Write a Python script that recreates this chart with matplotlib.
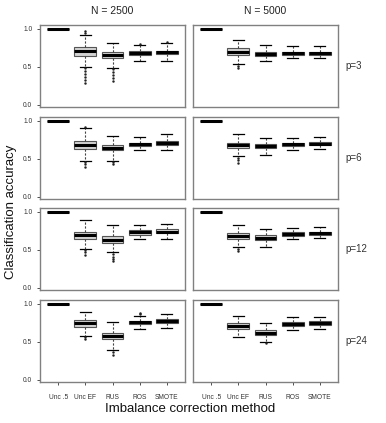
import matplotlib
matplotlib.use("Agg")
import matplotlib.pyplot as plt

plt.rcParams['font.family'] = ['Liberation Sans', 'DejaVu Sans']

METHODS = ['Unc .5', 'Unc EF', 'RUS', 'ROS', 'SMOTE']
SAMPLE_SIZES = ['N = 2500', 'N = 5000']
P_LABELS = ['p=3', 'p=6', 'p=12', 'p=24']

# box stats per N, rows = p (3, 6, 12, 24), columns = methods
MED_2500 = [[1.0, 0.71, 0.65, 0.68, 0.69],
            [1.0, 0.68, 0.64, 0.69, 0.71],
            [1.0, 0.70, 0.635, 0.73, 0.74],
            [1.0, 0.745, 0.57, 0.76, 0.78]]
Q1_2500 = [[1.0, 0.645, 0.61, 0.66, 0.665],
           [1.0, 0.63, 0.61, 0.67, 0.68],
           [1.0, 0.645, 0.59, 0.70, 0.72],
           [1.0, 0.70, 0.53, 0.73, 0.745]]
Q3_2500 = [[1.0, 0.765, 0.69, 0.71, 0.71],
           [1.0, 0.73, 0.68, 0.71, 0.73],
           [1.0, 0.74, 0.675, 0.755, 0.77],
           [1.0, 0.79, 0.62, 0.78, 0.80]]
LO_2500 = [[1.0, 0.50, 0.48, 0.57, 0.57],
           [1.0, 0.47, 0.47, 0.61, 0.62],
           [1.0, 0.51, 0.465, 0.64, 0.645],
           [1.0, 0.58, 0.385, 0.67, 0.68]]
HI_2500 = [[1.0, 0.92, 0.81, 0.79, 0.81],
           [1.0, 0.90, 0.80, 0.79, 0.82],
           [1.0, 0.89, 0.82, 0.83, 0.84],
           [1.0, 0.89, 0.755, 0.84, 0.87]]
FLIERS_2500 = [[[], [0.95, 0.97, 0.48, 0.45, 0.41, 0.37, 0.33, 0.29],
                [0.47, 0.43, 0.39, 0.35, 0.31], [0.80], [0.83]],
               [[], [0.92, 0.46, 0.43, 0.39], [0.46, 0.43], [], []],
               [[], [0.50, 0.47, 0.43], [0.45, 0.41, 0.38, 0.35], [], []],
               [[], [0.56, 0.53], [0.37, 0.33], [0.86, 0.88], []]]

MED_5000 = [[1.0, 0.70, 0.67, 0.68, 0.68],
            [1.0, 0.675, 0.665, 0.69, 0.70],
            [1.0, 0.68, 0.66, 0.71, 0.715],
            [1.0, 0.71, 0.62, 0.73, 0.745]]
Q1_5000 = [[1.0, 0.66, 0.64, 0.66, 0.66],
           [1.0, 0.64, 0.64, 0.67, 0.68],
           [1.0, 0.64, 0.63, 0.68, 0.69],
           [1.0, 0.67, 0.59, 0.71, 0.72]]
Q3_5000 = [[1.0, 0.745, 0.69, 0.70, 0.70],
           [1.0, 0.71, 0.69, 0.71, 0.72],
           [1.0, 0.72, 0.69, 0.73, 0.735],
           [1.0, 0.745, 0.65, 0.76, 0.77]]
LO_5000 = [[1.0, 0.53, 0.57, 0.61, 0.61],
           [1.0, 0.53, 0.55, 0.61, 0.63],
           [1.0, 0.54, 0.54, 0.64, 0.65],
           [1.0, 0.56, 0.50, 0.65, 0.665]]
HI_5000 = [[1.0, 0.855, 0.78, 0.77, 0.77],
           [1.0, 0.82, 0.77, 0.78, 0.79],
           [1.0, 0.83, 0.77, 0.785, 0.80],
           [1.0, 0.845, 0.745, 0.825, 0.83]]
FLIERS_5000 = [[[], [0.51, 0.49], [], [], []],
               [[], [0.51, 0.48, 0.45], [], [], []],
               [[], [0.51, 0.48], [], [], []],
               [[], [], [0.48], [], []]]

STATS = [(MED_2500, Q1_2500, Q3_2500, LO_2500, HI_2500, FLIERS_2500),
         (MED_5000, Q1_5000, Q3_5000, LO_5000, HI_5000, FLIERS_5000)]

W, H = 386, 423
fig = plt.figure(figsize=(W / 100, H / 100), dpi=100)

col_x = [40, 193]
col_w = 145
row_top = [25, 117, 208, 300]
row_h = 82
frame_col = '#808080'

for c in range(2):
    med, q1, q3, lo, hi, fl = STATS[c]
    for r in range(4):
        ax = fig.add_axes([col_x[c] / W, 1 - (row_top[r] + row_h) / H,
                           col_w / W, row_h / H])
        bxp_stats = []
        for m in range(5):
            bxp_stats.append(dict(med=med[r][m], q1=q1[r][m], q3=q3[r][m],
                                  whislo=lo[r][m], whishi=hi[r][m],
                                  fliers=fl[r][m], label=METHODS[m]))
        ax.bxp(bxp_stats, positions=range(1, 6), widths=0.8,
               patch_artist=True, showfliers=True,
               boxprops=dict(facecolor='#d3d3d3', edgecolor='#555555', linewidth=0.8),
               medianprops=dict(color='black', linewidth=2.2, solid_capstyle='butt'),
               whiskerprops=dict(color='#444444', linewidth=0.8, linestyle=(0, (2, 1.5))),
               capprops=dict(color='black', linewidth=0.9),
               capwidths=0.4,
               flierprops=dict(marker='o', markersize=1.4, markerfacecolor='#222222',
                               markeredgecolor='#222222', markeredgewidth=0.3,
                               linestyle='none'))
        ax.set_xlim(0.33, 5.67)
        ax.set_ylim(-0.03, 1.05)
        for s in ax.spines.values():
            s.set_color(frame_col)
            s.set_linewidth(1.0)
        ax.set_yticks([0.0, 0.5, 1.0])
        ax.set_xticks(range(1, 6))
        ax.tick_params(axis='both', length=2.5, width=0.6, color='#333333',
                       labelsize=4.8, labelcolor='#333333', pad=3)
        if c == 0:
            ax.set_yticklabels(['0.0', '0.5', '1.0'])
        else:
            ax.tick_params(axis='y', left=False, labelleft=False)
        if r == 3:
            ax.set_xticklabels(METHODS)
            ax.tick_params(axis='x', pad=6)
        else:
            ax.tick_params(axis='x', bottom=False, labelbottom=False)
        if c == 1:
            ax.text(1.05, 0.5, P_LABELS[r], transform=ax.transAxes,
                    fontsize=7, color='#333333', va='center', ha='left')
        if r == 0:
            ax.set_title(SAMPLE_SIZES[c], fontsize=7.5, color='#222222', pad=8)

fig.text(11 / W, 0.5, 'Classification accuracy', rotation=90, fontsize=9.5,
         va='center', ha='center', color='#111111')
fig.text(190 / W, 1 - 409 / H, 'Imbalance correction method', fontsize=9.5,
         va='center', ha='center', color='#111111')

fig.savefig('out.png', dpi=100)
